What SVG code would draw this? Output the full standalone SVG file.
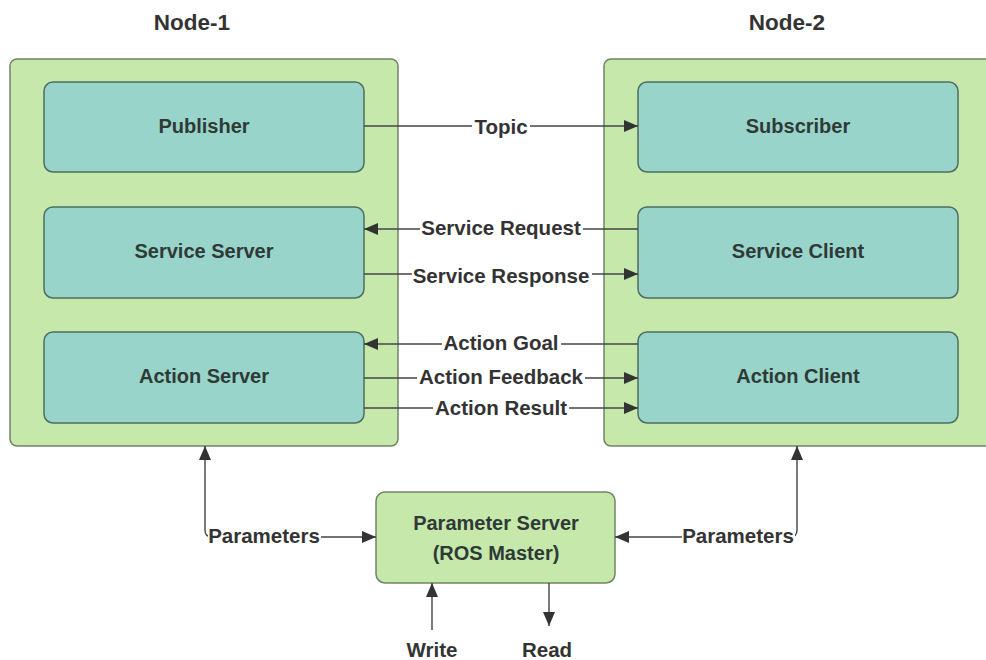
<svg xmlns="http://www.w3.org/2000/svg" width="986" height="660" viewBox="0 0 986 660">
<style>
.container{fill:#c6e8aa;stroke:#6f8466;stroke-width:1.5}
.inner{fill:#98d4c9;stroke:#4d6e63;stroke-width:1.5}
.title{font-family:"Liberation Sans",Arial,sans-serif;font-weight:bold;font-size:22.5px;fill:#333;text-anchor:middle}
.lbl{font-family:"Liberation Sans",Arial,sans-serif;font-weight:bold;font-size:20px;fill:#2f3a37;text-anchor:middle;dominant-baseline:central}
.clbl{font-family:"Liberation Sans",Arial,sans-serif;font-weight:bold;font-size:20.5px;fill:#333;text-anchor:middle;dominant-baseline:central}
.bg{fill:#fff}
.conn{fill:none;stroke:#444;stroke-width:1.4}
</style>
<defs>
<marker id="arr" markerWidth="14" markerHeight="12" refX="14" refY="6" orient="auto" markerUnits="userSpaceOnUse">
<path d="M0,0 L14,6 L0,12 z" fill="#333"/>
</marker>
</defs>
<rect width="986" height="660" fill="#fff"/>
<text class="title" x="192" y="30">Node-1</text>
<text class="title" x="787" y="30">Node-2</text>
<g id="node1">
<rect class="container" x="10" y="59" width="388" height="387" rx="7"/>
</g>
<g id="node2">
<rect class="container" x="604" y="59" width="390" height="387" rx="7"/>
</g>
<g id="publisher"><rect class="inner" x="44" y="82" width="320" height="90" rx="9"/><text class="lbl" x="204" y="126">Publisher</text></g>
<g id="service-server"><rect class="inner" x="44" y="207" width="320" height="91" rx="9"/><text class="lbl" x="204" y="251">Service Server</text></g>
<g id="action-server"><rect class="inner" x="44" y="332" width="320" height="91" rx="9"/><text class="lbl" x="204" y="376">Action Server</text></g>
<g id="subscriber"><rect class="inner" x="638" y="82" width="320" height="90" rx="9"/><text class="lbl" x="798" y="126">Subscriber</text></g>
<g id="service-client"><rect class="inner" x="638" y="207" width="320" height="91" rx="9"/><text class="lbl" x="798" y="251">Service Client</text></g>
<g id="action-client"><rect class="inner" x="638" y="332" width="320" height="91" rx="9"/><text class="lbl" x="798" y="376">Action Client</text></g>
<g id="param-server"><rect class="container" x="376" y="492" width="239" height="91" rx="9"/><text class="lbl" x="496" y="523">Parameter Server</text><text class="lbl" x="496" y="553">(ROS Master)</text></g>
<g id="connectors">
<path class="conn" d="M364,126 L638,126" marker-end="url(#arr)"/>
<rect class="bg" x="472" y="115" width="58" height="22"/>
<text class="clbl" x="501" y="126">Topic</text>
<path class="conn" d="M638,229 L364,229" marker-end="url(#arr)"/>
<rect class="bg" x="420" y="216" width="163" height="22"/>
<text class="clbl" x="501" y="227">Service Request</text>
<path class="conn" d="M364,274 L638,274" marker-end="url(#arr)"/>
<rect class="bg" x="412" y="264" width="180" height="22"/>
<text class="clbl" x="501" y="275">Service Response</text>
<path class="conn" d="M638,344 L364,344" marker-end="url(#arr)"/>
<rect class="bg" x="442" y="331" width="119" height="22"/>
<text class="clbl" x="501" y="342">Action Goal</text>
<path class="conn" d="M364,378 L638,378" marker-end="url(#arr)"/>
<rect class="bg" x="417" y="365" width="168" height="22"/>
<text class="clbl" x="501" y="376">Action Feedback</text>
<path class="conn" d="M364,408 L638,408" marker-end="url(#arr)"/>
<rect class="bg" x="433" y="396" width="136" height="22"/>
<text class="clbl" x="501" y="407">Action Result</text>
<path class="conn" d="M205,470 L205,530 Q205,537 212,537 L376,537" marker-end="url(#arr)"/>
<path class="conn" d="M205,470 L205,446" marker-end="url(#arr)"/>
<rect class="bg" x="208" y="524" width="113" height="22"/>
<text class="clbl" x="264" y="535">Parameters</text>
<path class="conn" d="M797,470 L797,530 Q797,537 790,537 L615,537" marker-end="url(#arr)"/>
<path class="conn" d="M797,470 L797,446" marker-end="url(#arr)"/>
<rect class="bg" x="682" y="524" width="113" height="22"/>
<text class="clbl" x="738" y="535">Parameters</text>
<path class="conn" d="M432,630 L432,583" marker-end="url(#arr)"/>
<path class="conn" d="M549,583 L549,626" marker-end="url(#arr)"/>
</g>
<text class="clbl" x="432" y="649">Write</text>
<text class="clbl" x="547" y="649">Read</text>
</svg>
